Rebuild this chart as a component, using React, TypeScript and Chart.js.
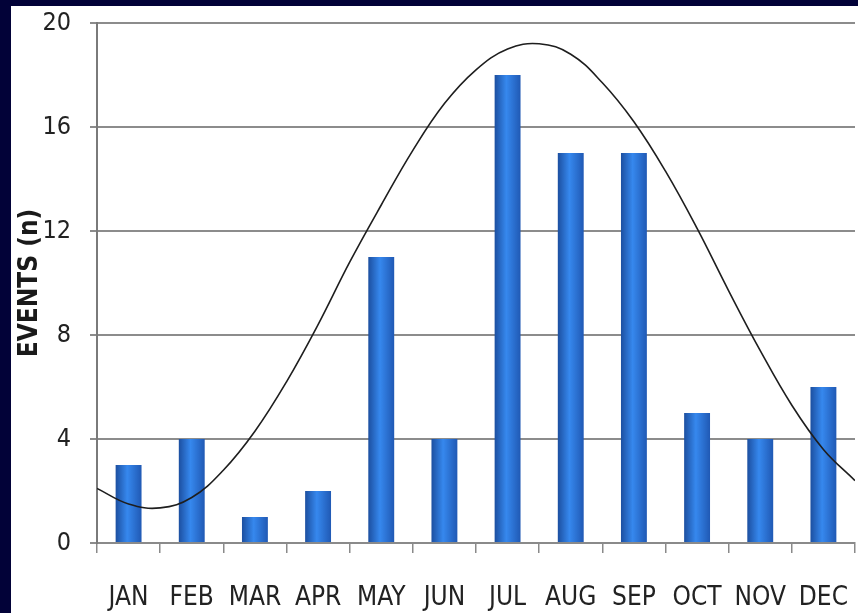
import React, { useEffect, useRef } from "react";
import { Chart, registerables } from "chart.js";

Chart.register(...registerables);

const months = ["JAN", "FEB", "MAR", "APR", "MAY", "JUN", "JUL", "AUG", "SEP", "OCT", "NOV", "DEC"];
const events = [3, 4, 1, 2, 11, 4, 18, 15, 15, 5, 4, 6];
const yTickStep = 4;
const yMax = 20;
const yTitle = "EVENTS (n)";

// fitted curve (x in months from the left edge of the plot)
const curveX = [0, 0.5, 1, 1.5, 2, 2.5, 3, 3.5, 4, 4.5, 5, 5.5, 6, 6.5, 7, 7.5, 8, 8.5, 9, 9.5, 10, 10.5, 11, 11.5, 12];
const curveY = [2.1, 1.5, 1.35, 1.75, 2.8, 4.3, 6.2, 8.4, 10.8, 13.0, 15.1, 16.9, 18.2, 19.0, 19.2, 18.8, 17.7, 16.2, 14.3, 12.1, 9.7, 7.4, 5.3, 3.6, 2.4];

const FONT = '"Liberation Sans Narrow", "DejaVu Sans Condensed", "Liberation Sans", sans-serif';
const BAR_FRAC = 0.41;

export default function App() {
  const ref = useRef<HTMLCanvasElement | null>(null);

  useEffect(() => {
    document.body.style.margin = "0";
    const canvas = ref.current;
    if (!canvas) return;
    const chart = new Chart(canvas, {
      type: "bar",
      data: {
        labels: months,
        datasets: [
          {
            type: "line",
            data: curveX.map((x, i) => ({ x, y: curveY[i] })),
            xAxisID: "x2",
            yAxisID: "y",
            borderColor: "#1e1e1e",
            borderWidth: 1.6,
            pointRadius: 0,
            tension: 0.4,
            fill: false,
            order: 0,
          } as any,
          {
            type: "bar",
            data: events,
            xAxisID: "x",
            yAxisID: "y",
            grouped: false,
            barPercentage: BAR_FRAC,
            categoryPercentage: 1,
            order: 1,
            backgroundColor: (c: any) => {
              const ch = c.chart;
              const xs = ch.scales && ch.scales.x;
              if (!xs || c.dataIndex === undefined || !isFinite(xs.width)) return "#2a6fd6";
              const cx = xs.getPixelForValue(c.dataIndex);
              const w = (xs.width / months.length) * BAR_FRAC;
              if (!isFinite(cx) || !isFinite(w) || w <= 0) return "#2a6fd6";
              const g = ch.ctx.createLinearGradient(cx - w / 2, 0, cx + w / 2, 0);
              g.addColorStop(0, "#1c4fa0");
              g.addColorStop(0.45, "#3688ee");
              g.addColorStop(1, "#2059b4");
              return g;
            },
          } as any,
        ],
      },
      options: {
        animation: false,
        responsive: false,
        maintainAspectRatio: false,
        layout: { padding: { left: 0, top: 17, right: 3, bottom: 0 } },
        plugins: { legend: { display: false }, tooltip: { enabled: false } },
        scales: {
          x: {
            type: "category",
            offset: true,
            grid: {
              display: true,
              drawOnChartArea: false,
              drawTicks: true,
              tickLength: 10,
              color: "#8a8a8a",
              lineWidth: 1.5,
              offset: true,
            },
            border: { display: true, color: "#8a8a8a", width: 2 },
            ticks: { color: "#222", font: { family: FONT, size: 26 }, padding: 30, maxRotation: 0, autoSkip: false },
            afterFit: (s: any) => {
              s.height = 70;
              s.paddingLeft = 0;
              s.paddingRight = 0;
            },
          },
          x2: {
            type: "linear",
            display: false,
            min: 0,
            max: 12,
            offset: false,
          },
          y: {
            type: "linear",
            min: 0,
            max: yMax,
            ticks: { stepSize: yTickStep, color: "#222", font: { family: FONT, size: 25 }, padding: 19 },
            grid: { color: "#8c8c8c", lineWidth: 2, tickLength: 7, drawTicks: true },
            border: { display: true, color: "#7a7a7a", width: 2 },
            title: {
              display: true,
              text: yTitle,
              color: "#1a1a1a",
              font: { family: FONT, size: 26, weight: "bold" },
              padding: { top: 4, bottom: 0 },
            },
            afterFit: (s: any) => {
              s.width = 86;
              s.paddingTop = 0;
              s.paddingBottom = 0;
            },
          },
        },
      } as any,
    });
    return () => chart.destroy();
  }, []);

  return (
    <div style={{ position: "relative", width: 858, height: 613, background: "#020238", overflow: "hidden" }}>
      <div style={{ position: "absolute", left: 11, top: 6, width: 847, height: 607, background: "#ffffff" }}>
        <canvas ref={ref} width={847} height={607} style={{ display: "block", width: 847, height: 607 }} />
      </div>
    </div>
  );
}
